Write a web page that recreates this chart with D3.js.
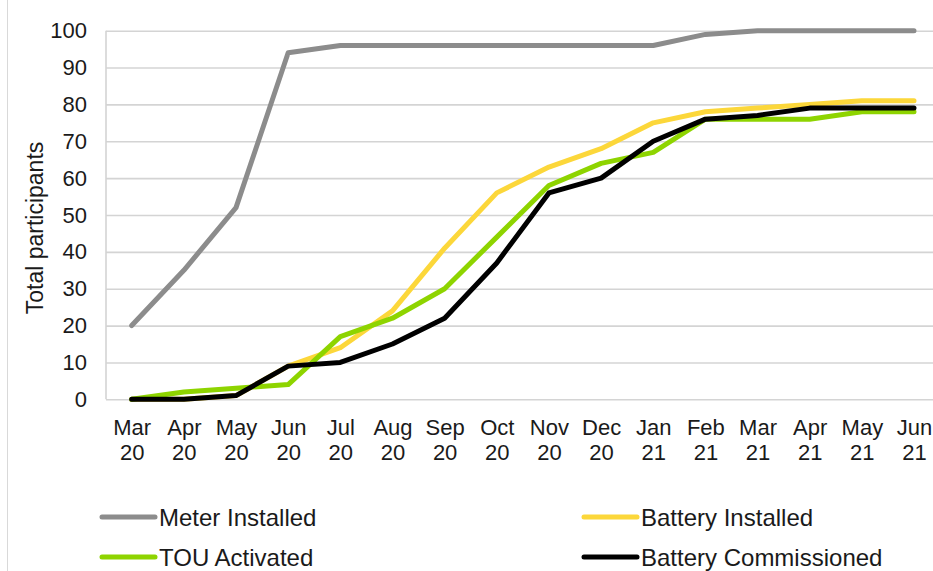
<!DOCTYPE html>
<html>
<head>
<meta charset="utf-8">
<script src="https://cdn.jsdelivr.net/npm/d3@7"></script>
<style>
  html, body { margin: 0; padding: 0; background: #fff; }
  svg { display: block; }
  text { font-family: "Liberation Sans", Arial, sans-serif; fill: #1a1a1a; }
</style>
</head>
<body>
<svg id="chart" width="933" height="571"></svg>
<script>
// ---- data ----
const months = ["Mar 20","Apr 20","May 20","Jun 20","Jul 20","Aug 20","Sep 20","Oct 20",
                "Nov 20","Dec 20","Jan 21","Feb 21","Mar 21","Apr 21","May 21","Jun 21"];
const meterInstalled       = [20, 35, 52, 94, 96, 96, 96, 96, 96, 96, 96, 99, 100, 100, 100, 100];
const batteryInstalled     = [0, 0, 1, 9, 14, 24, 41, 56, 63, 68, 75, 78, 79, 80, 81, 81];
const touActivated         = [0, 2, 3, 4, 17, 22, 30, 44, 58, 64, 67, 76, 76, 76, 78, 78];
const batteryCommissioned  = [0, 0, 1, 9, 10, 15, 22, 37, 56, 60, 70, 76, 77, 79, 79, 79];
const yTicks = [0, 10, 20, 30, 40, 50, 60, 70, 80, 90, 100];
const seriesNames  = ["Meter Installed", "Battery Installed", "TOU Activated", "Battery Commissioned"];
const seriesColors = ["#8c8c8c", "#fcd73a", "#8ed400", "#000000"];

const seriesData = [meterInstalled, batteryInstalled, touActivated, batteryCommissioned];

// ---- layout ----
const svg = d3.select("#chart");
const plotLeft = 106, plotTop = 30.7, plotBottom = 399.3, plotRight = 940;

const x = d3.scalePoint().domain(months).range([131.7, 914]).padding(0);
const y = d3.scaleLinear().domain([0, 100]).range([plotBottom, plotTop]);

// outer left border
svg.append("line").attr("x1", 7.5).attr("x2", 7.5).attr("y1", 0).attr("y2", 571)
  .attr("stroke", "#d9d9d9").attr("stroke-width", 1);

// gridlines
svg.append("g")
  .attr("transform", `translate(${plotLeft},0)`)
  .call(d3.axisLeft(y).tickValues(yTicks).tickSize(-(plotRight - plotLeft)).tickFormat(""))
  .call(g => g.select(".domain").remove())
  .call(g => g.selectAll("line").attr("stroke", "#d4d4d4").attr("stroke-width", 1.6));

// y axis line
svg.append("line").attr("x1", plotLeft).attr("x2", plotLeft).attr("y1", plotTop).attr("y2", plotBottom)
  .attr("stroke", "#d4d4d4").attr("stroke-width", 1.6);

// y tick labels
svg.append("g")
  .attr("transform", `translate(${plotLeft},0)`)
  .call(d3.axisLeft(y).tickValues(yTicks).tickSize(0).tickPadding(19))
  .call(g => g.select(".domain").remove())
  .call(g => g.selectAll("text").style("font-size", "22px").attr("fill", "#1a1a1a")
     .style("font-family", '"Liberation Sans", Arial, sans-serif'));

// x tick labels (two lines)
svg.append("g")
  .attr("transform", `translate(0,${plotBottom})`)
  .call(d3.axisBottom(x).tickSize(0))
  .call(g => g.select(".domain").remove())
  .call(g => g.selectAll("text").each(function(d) {
      const parts = d.split(" ");
      const t = d3.select(this).text("").attr("y", 0).attr("dy", null)
        .style("font-size", "22px").attr("fill", "#1a1a1a")
        .style("font-family", '"Liberation Sans", Arial, sans-serif');
      t.append("tspan").attr("x", 0).attr("y", 36).text(parts[0]);
      t.append("tspan").attr("x", 0).attr("y", 61).text(parts[1]);
  }));

// y axis title
svg.append("text")
  .attr("transform", "translate(43,228) rotate(-90)")
  .attr("text-anchor", "middle")
  .style("font-size", "23px")
  .text("Total participants");

// lines
const line = d3.line().x((d, i) => x(months[i])).y(d => y(d));
seriesData.forEach((vals, k) => {
  svg.append("path")
    .datum(vals)
    .attr("d", line)
    .attr("fill", "none")
    .attr("stroke", seriesColors[k])
    .attr("stroke-width", 5)
    .attr("stroke-linejoin", "round")
    .attr("stroke-linecap", "round");
});

// legend
const legendPos = [[100, 517], [582, 517], [100, 557], [582, 557]];
seriesNames.forEach((name, k) => {
  const [lx, ly] = legendPos[k];
  const g = svg.append("g").attr("transform", `translate(${lx},${ly})`);
  g.append("line").attr("x1", 2).attr("x2", 55).attr("y1", 0).attr("y2", 0)
    .attr("stroke", seriesColors[k]).attr("stroke-width", 5).attr("stroke-linecap", "round");
  g.append("text").attr("x", 59).attr("y", 9).style("font-size", "24px").text(name);
});
</script>
</body>
</html>
